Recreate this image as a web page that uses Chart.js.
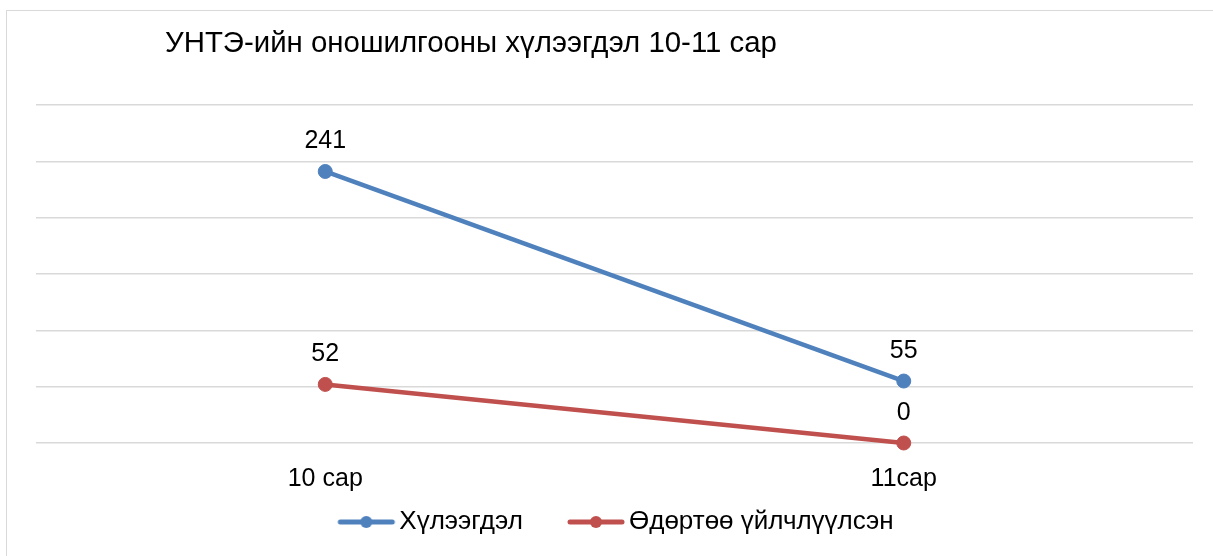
<!DOCTYPE html>
<html>
<head>
<meta charset="utf-8">
<script src="https://cdn.jsdelivr.net/npm/chart.js@4.4.0/dist/chart.umd.min.js"></script>
<style>
html, body { margin: 0; padding: 0; background: #fff; overflow: hidden; }
#wrap { position: relative; width: 1213px; height: 556px; overflow: hidden; }
#frame { position: absolute; left: 6px; top: 10px; width: 1300px; height: 700px; border: 1px solid #d9d9d9; box-sizing: border-box; }
canvas { position: absolute; left: 0; top: 0; }
</style>
</head>
<body>
<div id="wrap">
  <div id="frame"></div>
  <canvas id="graph" width="1213" height="556"></canvas>
</div>
<script>
var chartTitle = 'УНТЭ-ийн оношилгооны хүлээгдэл 10-11 сар';
var months = ['10 сар', '11сар'];
var seriesNames = ['Хүлээгдэл', 'Өдөртөө үйлчлүүлсэн'];
var waiting = [241, 55];
var sameDay = [52, 0];
var yTicks = [0, 50, 100, 150, 200, 250, 300];

var blue = '#4F81BD';
var red = '#C0504D';
var font = 'Liberation Sans, Arial, sans-serif';

// legend marker: short line with a dot, drawn toward the right of the box
function marker(color) {
  var c = document.createElement('canvas');
  c.width = 99;
  c.height = 14;
  var g = c.getContext('2d');
  g.strokeStyle = color;
  g.lineWidth = 5;
  g.lineCap = 'round';
  g.beginPath();
  g.moveTo(43, 7);
  g.lineTo(95, 7);
  g.stroke();
  g.fillStyle = color;
  g.beginPath();
  g.arc(69, 7, 6, 0, Math.PI * 2);
  g.fill();
  return c;
}
var markers = [marker(blue), marker(red)];

var titlePlugin = {
  id: 'sheetTitle',
  afterLayout: function(chart) {
    // the marker boxes carry empty space on their left, pull the legend back
    chart.legend.left -= 14;
    chart.legend.right -= 14;
  },
  afterDraw: function(chart) {
    var ctx = chart.ctx;
    ctx.save();
    ctx.font = '29.4px ' + font;
    ctx.fillStyle = '#000';
    ctx.textAlign = 'left';
    ctx.textBaseline = 'alphabetic';
    ctx.fillText(chartTitle, 165, 52);
    ctx.restore();
  }
};

var valueLabels = {
  id: 'valueLabels',
  afterDatasetsDraw: function(chart) {
    var ctx = chart.ctx;
    ctx.save();
    ctx.font = '25px ' + font;
    ctx.fillStyle = '#000';
    ctx.textAlign = 'center';
    ctx.textBaseline = 'alphabetic';
    chart.data.datasets.forEach(function(ds, i) {
      chart.getDatasetMeta(i).data.forEach(function(pt, j) {
        ctx.fillText(String(ds.data[j]), pt.x, pt.y - 23);
      });
    });
    ctx.restore();
  }
};

var ctx = document.getElementById('graph').getContext('2d');
var chart = new Chart(ctx, {
  type: 'line',
  data: {
    labels: months,
    datasets: [{
      label: seriesNames[0],
      data: waiting,
      clip: false,
      borderColor: blue,
      backgroundColor: blue,
      borderWidth: 4.5,
      pointRadius: 7,
      pointBorderWidth: 1,
      pointBackgroundColor: blue,
      pointBorderColor: blue
    }, {
      label: seriesNames[1],
      data: sameDay,
      clip: false,
      borderColor: red,
      backgroundColor: red,
      borderWidth: 4.5,
      pointRadius: 7,
      pointBorderWidth: 1,
      pointBackgroundColor: red,
      pointBorderColor: red
    }]
  },
  options: {
    responsive: false,
    animation: false,
    devicePixelRatio: 1,
    layout: { padding: { left: 36, right: 20, top: 105, bottom: 11 } },
    scales: {
      x: {
        offset: true,
        grid: { display: false },
        border: { display: false },
        ticks: { color: '#000', font: { family: font, size: 25 }, padding: 13 },
        afterFit: function(s) { s.height = 52; }
      },
      y: {
        min: 0,
        max: 300,
        afterBuildTicks: function(s) { s.ticks = yTicks.map(function(v) { return { value: v }; }); },
        ticks: { display: false },
        grid: { color: '#d9d9d9', lineWidth: 1.5, drawTicks: false },
        border: { display: false },
        afterFit: function(s) { s.width = 0; }
      }
    },
    plugins: {
      title: { display: false },
      tooltip: { enabled: false },
      legend: {
        position: 'bottom',
        labels: {
          usePointStyle: true,
          pointStyleWidth: 79,
          padding: 14,
          color: '#000',
          font: { family: font, size: 26 },
          generateLabels: function(c) {
            var items = Chart.defaults.plugins.legend.labels.generateLabels(c);
            items.forEach(function(it, i) { it.pointStyle = markers[i]; });
            return items;
          }
        }
      }
    }
  },
  plugins: [titlePlugin, valueLabels]
});
</script>
</body>
</html>
